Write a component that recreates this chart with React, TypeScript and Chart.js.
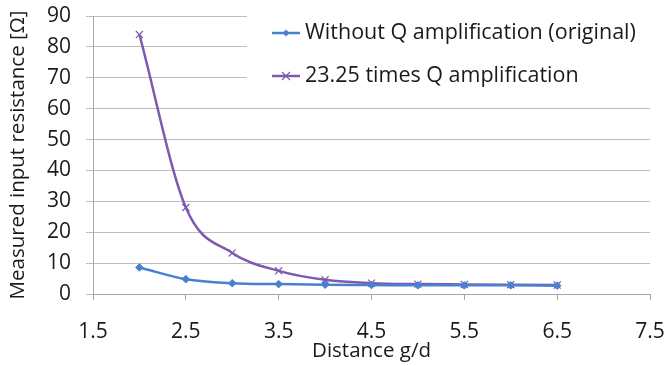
import React, { useEffect, useRef } from "react";
import { Chart, registerables } from "chart.js";

Chart.register(...registerables);

const distances = [2, 2.5, 3, 3.5, 4, 4.5, 5, 5.5, 6, 6.5];
const withoutQ = [8.6, 4.8, 3.5, 3.2, 3.0, 2.9, 2.8, 2.8, 2.8, 2.7];
const withQ = [84, 28, 13.3, 7.5, 4.6, 3.5, 3.2, 3.1, 3.0, 2.9];
const seriesNames = ["Without Q amplification (original)", "23.25 times Q amplification"];
const seriesColors = ["#4a80d0", "#7e5aae"];
const xTitle = "Distance g/d";
const yTitle = "Measured input resistance [Ω]";

const FONT = "'Open Sans', sans-serif";
const TICK_FS = 21;
const TITLE_FS = 20.5;
const LEGEND_FS = 21.5;

const legendPlugin = {
  id: "insideLegend",
  afterDatasetsDraw(chart: any) {
    const ctx = chart.ctx;
    ctx.save();
    ctx.fillStyle = "#ffffff";
    ctx.fillRect(247, 0, 420, 95);
    const rows = [33, 76];
    chart.data.datasets.forEach((ds: any, i: number) => {
      const y = rows[i];
      ctx.strokeStyle = ds.borderColor;
      ctx.lineWidth = 2.5;
      ctx.beginPath();
      ctx.moveTo(272, y);
      ctx.lineTo(300, y);
      ctx.stroke();
      ctx.fillStyle = ds.borderColor;
      ctx.lineWidth = 1.2;
      if (i === 0) {
        ctx.beginPath();
        ctx.moveTo(286, y - 3.5);
        ctx.lineTo(289.5, y);
        ctx.lineTo(286, y + 3.5);
        ctx.lineTo(282.5, y);
        ctx.closePath();
        ctx.fill();
      } else {
        ctx.beginPath();
        ctx.moveTo(282, y - 4);
        ctx.lineTo(290, y + 4);
        ctx.moveTo(290, y - 4);
        ctx.lineTo(282, y + 4);
        ctx.stroke();
      }
      ctx.fillStyle = "#1a1a1a";
      ctx.font = `${LEGEND_FS}px ${FONT}`;
      ctx.textBaseline = "middle";
      ctx.textAlign = "left";
      ctx.fillText(ds.label, 305, y);
    });
    ctx.restore();
  },
};

export default function App() {
  const ref = useRef<HTMLCanvasElement>(null);
  useEffect(() => {
    if (!ref.current) return;
    const chart = new Chart(ref.current, {
      type: "line",
      data: {
        datasets: [
          {
            label: seriesNames[0],
            data: distances.map((x, i) => ({ x, y: withoutQ[i] })),
            borderColor: seriesColors[0],
            backgroundColor: seriesColors[0],
            borderWidth: 2.5,
            pointStyle: "rectRot",
            pointRadius: 3.8,
            pointBorderWidth: 1,
            cubicInterpolationMode: "monotone",
          },
          {
            label: seriesNames[1],
            data: distances.map((x, i) => ({ x, y: withQ[i] })),
            borderColor: seriesColors[1],
            backgroundColor: seriesColors[1],
            borderWidth: 2.5,
            pointStyle: "crossRot",
            pointRadius: 5,
            pointBorderWidth: 1.2,
            cubicInterpolationMode: "monotone",
          },
        ],
      },
      options: {
        responsive: false,
        animation: false,
        layout: { padding: { top: 16, right: 16, left: 0, bottom: 0 } },
        plugins: { legend: { display: false }, tooltip: { enabled: false } },
        scales: {
          x: {
            type: "linear",
            min: 1.5,
            max: 7.5,
            afterFit: (s: any) => {
              s.height = 72;
              s.paddingLeft = 0;
              s.paddingRight = 0;
            },
            ticks: {
              stepSize: 1,
              color: "#1a1a1a",
              font: { family: FONT, size: TICK_FS },
              padding: 19,
              callback: (v: any) => Number(v).toFixed(1),
            },
            grid: { drawOnChartArea: false, color: "#a6a6a6", tickLength: 6 },
            border: { color: "#a6a6a6" },
            title: {
              display: true,
              text: xTitle,
              color: "#1a1a1a",
              font: { family: FONT, size: TITLE_FS },
              padding: { top: 0, bottom: 3 },
            },
          },
          y: {
            min: 0,
            max: 90,
            afterFit: (s: any) => {
              s.width = 93;
              s.paddingTop = 0;
              s.paddingBottom = 0;
            },
            ticks: {
              stepSize: 10,
              color: "#1a1a1a",
              font: { family: FONT, size: TICK_FS },
              padding: 15,
            },
            grid: { color: "#bdbdbd", tickLength: 7 },
            border: { color: "#a6a6a6" },
            title: {
              display: true,
              text: yTitle,
              color: "#1a1a1a",
              font: { family: FONT, size: TITLE_FS },
              padding: { top: 6, bottom: 0 },
            },
          },
        },
      },
      plugins: [legendPlugin],
    });
    return () => chart.destroy();
  }, []);
  return (
    <div style={{ position: "fixed", left: 0, top: 0, width: 666, height: 366, background: "#fff" }}>
      <canvas ref={ref} width={666} height={366} style={{ width: 666, height: 366 }} />
    </div>
  );
}
